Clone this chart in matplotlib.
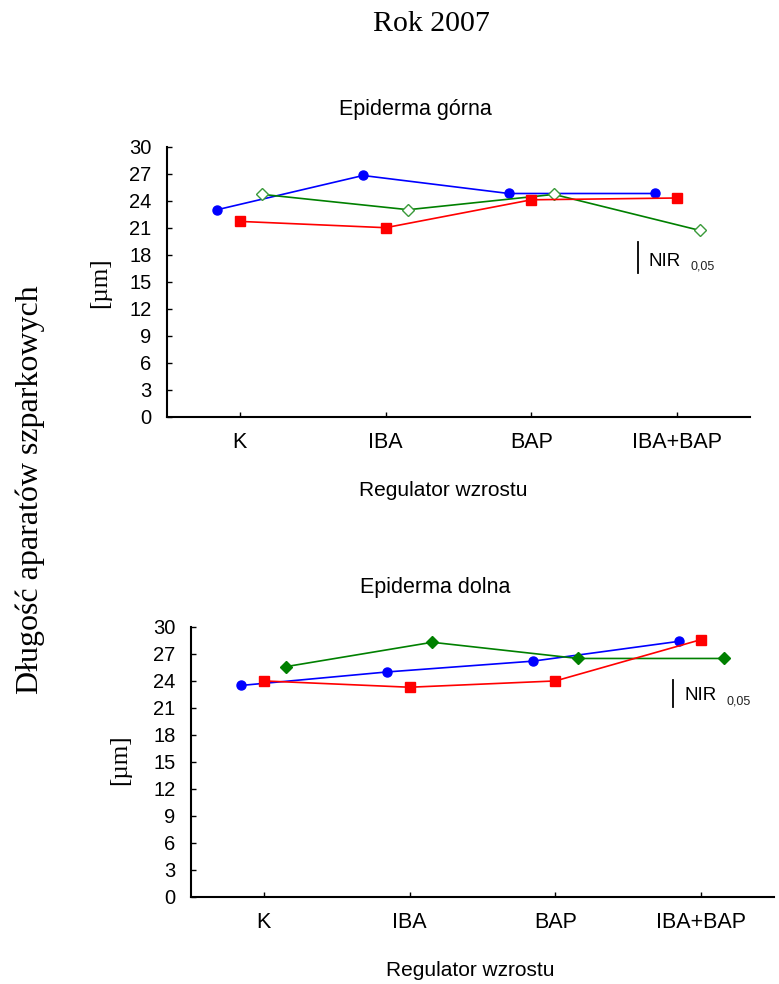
import numpy as np
import matplotlib
matplotlib.use("Agg")
import matplotlib.pyplot as plt

# dane
categories = ['K', 'IBA', 'BAP', 'IBA+BAP']

top_blue = [23.0, 26.8, 24.8, 24.8]
top_red = [21.7, 21.0, 24.1, 24.3]
top_green = [24.7, 23.0, 24.7, 20.7]
top_nir = [16.0, 19.4]

bot_blue = [23.5, 25.0, 26.2, 28.4]
bot_red = [24.0, 23.3, 24.0, 28.6]
bot_green = [25.6, 28.3, 26.5, 26.5]
bot_nir = [21.1, 24.1]

yticks = np.arange(0, 31, 3)

W, H = 779, 984
plt.rcParams['font.family'] = ['Liberation Sans', 'DejaVu Sans']
SERIF = ['Liberation Serif', 'DejaVu Serif']


def box(l, t, r, b):
    return [l / W, 1 - b / H, (r - l) / W, (b - t) / H]


def fx(px):
    return px / W


def fy(py):
    return 1 - py / H


def draw_panel(ax, blue, red, green, nir, nir_x, green_open):
    x = np.arange(len(categories))
    off = 0.155
    ax.plot(x - off, blue, color='#0000ff', lw=1.2, marker='o', ms=6.5, zorder=3)
    ax.plot(x, red, color='#ff0000', lw=1.2, marker='s', ms=7, zorder=4)
    if green_open:
        ax.plot(x + off, green, color='#008000', lw=1.2, marker='D', ms=6.5,
                mfc='white', mec='#3a9a3a', mew=1.0, zorder=3)
    else:
        ax.plot(x + off, green, color='#008000', lw=1.2, marker='D', ms=6.5, zorder=3)

    ax.plot([nir_x, nir_x], nir, color='black', lw=1.3)
    ax.annotate('NIR', xy=(nir_x, nir[0]), xytext=(8, 2), textcoords='offset points',
                fontsize=13.5, ha='left', va='bottom')
    ax.annotate('0,05', xy=(nir_x, nir[0]), xytext=(38, 0), textcoords='offset points',
                fontsize=9, ha='left', va='bottom', color='#222222')

    ax.set_xlim(-0.5, 3.5)
    ax.set_ylim(0, 30)
    ax.set_xticks(x)
    ax.set_xticklabels(categories)
    ax.set_yticks(yticks)
    ax.spines['top'].set_visible(False)
    ax.spines['right'].set_visible(False)
    ax.spines['left'].set_linewidth(1.5)
    ax.spines['bottom'].set_linewidth(1.5)
    ax.tick_params(axis='both', direction='in', length=3.5, width=1.0)
    ax.tick_params(axis='y', pad=11, labelsize=14.5)
    ax.tick_params(axis='x', pad=11, labelsize=15.5)


fig = plt.figure(figsize=(W / 100, H / 100), dpi=100)

ax1 = fig.add_axes(box(167, 146.7, 750, 416.7))
draw_panel(ax1, top_blue, top_red, top_green, top_nir, 2.73, True)

ax2 = fig.add_axes(box(191, 627, 774, 896.7))
draw_panel(ax2, bot_blue, bot_red, bot_green, bot_nir, 2.81, False)

fig.text(fx(431), fy(24), 'Rok 2007', family=SERIF, fontsize=21.5, ha='center', va='center')
fig.text(fx(415), fy(110), 'Epiderma górna', fontsize=15.5, ha='center', va='center')
fig.text(fx(435), fy(588), 'Epiderma dolna', fontsize=15.5, ha='center', va='center')
fig.text(fx(443), fy(490), 'Regulator wzrostu', fontsize=15, ha='center', va='center')
fig.text(fx(470), fy(970), 'Regulator wzrostu', fontsize=15, ha='center', va='center')
fig.text(fx(100), fy(283), '[µm]', family=SERIF, fontsize=18, rotation=90,
         ha='center', va='center')
fig.text(fx(120), fy(760), '[µm]', family=SERIF, fontsize=18, rotation=90,
         ha='center', va='center')
fig.text(fx(30), fy(490), 'Długość aparatów szparkowych', family=SERIF, fontsize=23,
         rotation=90, ha='center', va='center')

fig.savefig('out.png', dpi=100)
